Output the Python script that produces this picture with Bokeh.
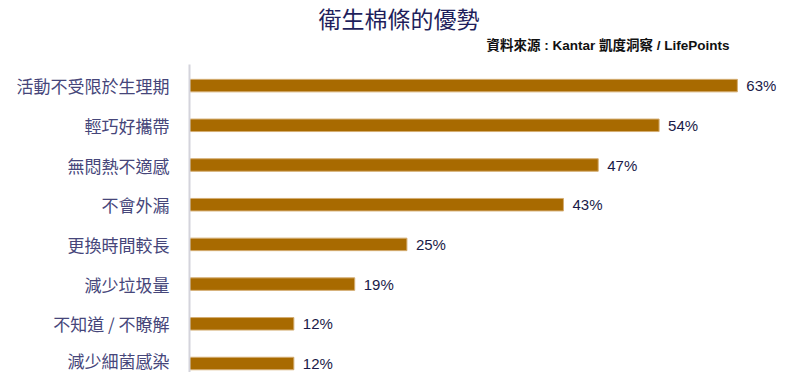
from bokeh.plotting import figure
from bokeh.models import Range1d, FixedTicker, ColumnDataSource, Label
from bokeh.core.properties import value
from bokeh.embed import file_html
from bokeh.resources import INLINE

categories = ["活動不受限於生理期", "輕巧好攜帶", "無悶熱不適感", "不會外漏",
              "更換時間較長", "減少垃圾量", "不知道 / 不瞭解", "減少細菌感染"]
values = [63, 54, 47, 43, 25, 19, 12, 12]
value_labels = ["63%", "54%", "47%", "43%", "25%", "19%", "12%", "12%"]
title_text = "衛生棉條的優勢"
source_text = "資料來源 : Kantar 凱度洞察 / LifePoints"

n = len(categories)
ypos = [n - 1 - i for i in range(n)]

# layout (pixels)
W, H = 784, 372
LEFT, RIGHT = 189, 8
ROW = 39.7            # px per category row
BOTTOM_PAD = 9        # px from last bar centre to frame bottom
AXIS_TOP_PX = 64      # where the axis line starts (from top)
X_END = 67.5
xpx = (W - LEFT - RIGHT) / X_END
y_lo = -BOTTOM_PAD / ROW
y_hi = y_lo + H / ROW


def py(top_px):
    return y_lo + (H - top_px) / ROW


def px(left_px):
    return (left_px - LEFT) / xpx


src = ColumnDataSource(dict(y=ypos, v=values, lab=value_labels))

p = figure(width=W, height=H, output_backend="svg", toolbar_location=None,
           x_range=Range1d(0, X_END), y_range=Range1d(y_lo, y_hi),
           min_border_left=LEFT, min_border_right=RIGHT, min_border_top=0,
           min_border_bottom=0)
p.outline_line_color = None
p.background_fill_color = "white"
p.border_fill_color = "white"
p.grid.visible = False
p.xaxis.visible = False

p.hbar(y="y", left=0, right="v", height=12.5 / ROW, source=src,
       fill_color="#A86A00", line_color="#D4AD72", line_width=1)

p.text(x="v", y="y", text="lab", source=src, x_offset=9,
       text_baseline="middle", text_align="left",
       text_font=value("Liberation Sans"), text_font_size="15px",
       text_color="#1a1a48")

yax = p.yaxis[0]
yax.bounds = (y_lo, py(AXIS_TOP_PX))
yax.ticker = FixedTicker(ticks=ypos)
yax.major_label_overrides = {y: c for y, c in zip(ypos, categories)}
yax.major_label_text_font = "Noto Sans CJK TC"
yax.major_label_text_font_size = "17px"
yax.major_label_text_color = "#46467a"
yax.major_label_standoff = 14
yax.major_tick_line_color = None
yax.minor_tick_line_color = None
yax.axis_line_color = "#d4d4dc"
yax.axis_line_width = 2

p.add_layout(Label(x=px(318), y=py(17), text=title_text,
                   text_align="left", text_baseline="middle",
                   text_font="Noto Sans CJK TC", text_font_size="23px",
                   text_color="#1f1f5c"))
p.add_layout(Label(x=px(729), y=py(45), text=source_text,
                   text_align="right", text_baseline="middle",
                   text_font="'Liberation Sans', 'Noto Sans CJK TC'",
                   text_font_size="13.5px", text_font_style="bold",
                   text_color="#111111"))

open("out.html", "w").write(file_html(p, INLINE))
